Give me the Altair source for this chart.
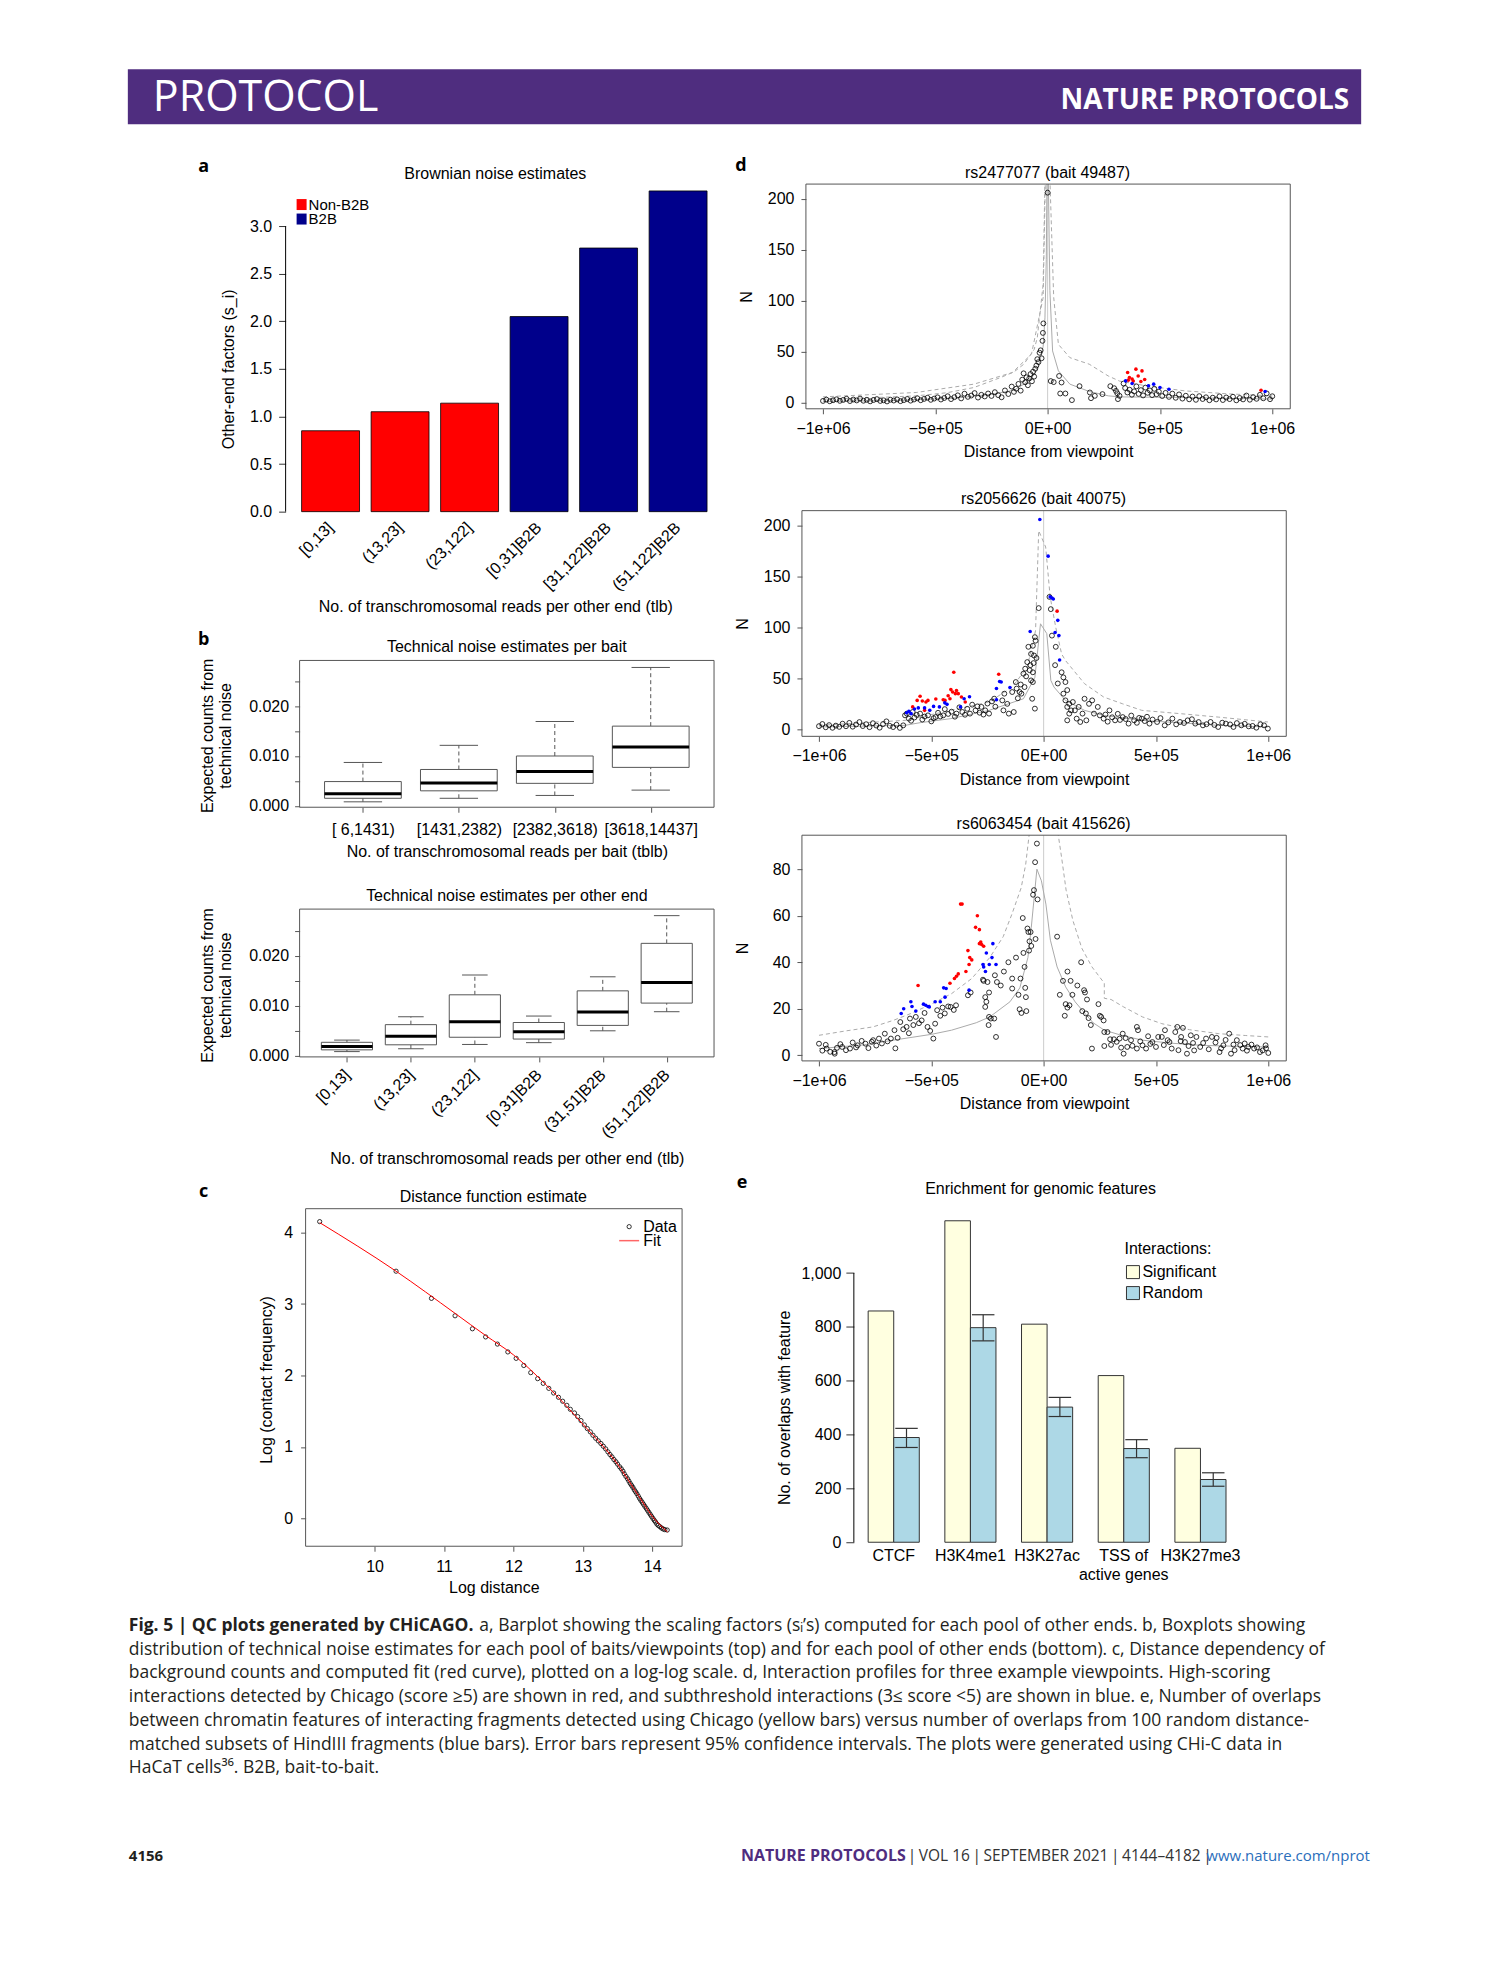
import json
import altair as alt
import pandas as pd

PLOT_FONT = "Liberation Sans, Arial, Helvetica, sans-serif"
PAGE_FONT = "Open Sans, Liberation Sans, sans-serif"
PURPLE = "#4f2d7f"
LINE = "#555555"

# ---------------- panel a ----------------
a_cats = ["[0,13]", "(13,23]", "(23,122]", "[0,31]B2B", "[31,122]B2B", "(51,122]B2B"]
a_vals = [0.85, 1.05, 1.14, 2.05, 2.77, 3.37]
a_groups = ["Non-B2B", "Non-B2B", "Non-B2B", "B2B", "B2B", "B2B"]
a_ticks = [0.0, 0.5, 1.0, 1.5, 2.0, 2.5, 3.0]

# ---------------- panel b ----------------
b1_cats = ["[ 6,1431)", "[1431,2382)", "[2382,3618)", "[3618,14437]"]
b1_lo = [0.00079, 0.0015, 0.00207, 0.00314]
b1_q1 = [0.0015, 0.0030, 0.0045, 0.00771]
b1_med = [0.00243, 0.00457, 0.00686, 0.01179]
b1_q3 = [0.00486, 0.00729, 0.0100, 0.0160]
b1_hi = [0.0087, 0.01214, 0.01693, 0.02779]

b2_cats = ["[0,13]", "(13,23]", "(23,122]", "[0,31]B2B", "(31,51]B2B", "(51,122]B2B"]
b2_lo = [0.0008, 0.00137, 0.00223, 0.00259, 0.00496, 0.00878]
b2_q1 = [0.00115, 0.00216, 0.00367, 0.00331, 0.00604, 0.0105]
b2_med = [0.0018, 0.00388, 0.00676, 0.00475, 0.0087, 0.0146]
b2_q3 = [0.00266, 0.00619, 0.01216, 0.00662, 0.01295, 0.02245]
b2_hi = [0.0031, 0.00777, 0.01612, 0.00791, 0.01576, 0.02799]
b_ticks = [0.0, 0.005, 0.01, 0.015, 0.02, 0.025]

# ---------------- panel c ----------------
c_x = [9.21, 10.31, 10.82, 11.16, 11.41, 11.60, 11.77, 11.92, 12.04, 12.15, 12.25, 12.35,
       12.43, 12.51, 12.58, 12.65, 12.71, 12.77, 12.82, 12.88, 12.926, 12.974, 13.022,
       13.065, 13.108, 13.146, 13.185, 13.223, 13.261, 13.295, 13.329, 13.362, 13.391,
       13.420, 13.448, 13.477, 13.501, 13.530, 13.554, 13.578, 13.597, 13.621, 13.645,
       13.664, 13.683, 13.703, 13.722, 13.741, 13.760, 13.779, 13.799, 13.818, 13.837,
       13.856, 13.875, 13.894, 13.914, 13.933, 13.952, 13.971, 13.990, 14.010, 14.029,
       14.048, 14.067, 14.086, 14.110, 14.134, 14.158, 14.182, 14.216]
c_y = [4.154, 3.46, 3.08, 2.836, 2.654, 2.54, 2.44, 2.33, 2.24, 2.14, 2.04, 1.956,
       1.89, 1.82, 1.755, 1.695, 1.64, 1.583, 1.527, 1.476, 1.425, 1.369, 1.308,
       1.257, 1.211, 1.164, 1.122, 1.085, 1.048, 1.010, 0.973, 0.931, 0.894,
       0.861, 0.824, 0.792, 0.759, 0.722, 0.694, 0.661, 0.624, 0.587, 0.554,
       0.522, 0.489, 0.461, 0.433, 0.400, 0.373, 0.345, 0.312, 0.279, 0.251,
       0.224, 0.196, 0.168, 0.140, 0.112, 0.084, 0.056, 0.028, 0.000, -0.028,
       -0.051, -0.079, -0.098, -0.116, -0.135, -0.149, -0.158, -0.163]
c_fit_x = [9.21, 10.31, 11.16, 11.60, 12.0, 12.5, 13.0, 13.5, 13.8, 14.0, 14.22]
c_fit_y = [4.14, 3.46, 2.87, 2.56, 2.29, 1.84, 1.32, 0.76, 0.32, 0.03, -0.19]

# ---------------- panel d (x in units of 1e4 bp) ----------------
d1_black = [(-100, 1.5), (-98.5, 2.8), (-97, 1.2), (-95.5, 2.2), (-94, 3.1), (-92.5, 1.6), (-91, 2.5),
            (-89.5, 3.6), (-88, 1.4), (-86.5, 2.9), (-85, 2.0), (-83.5, 3.8), (-82, 1.7), (-80.5, 2.6),
            (-79, 1.1), (-77.5, 2.4), (-76, 3.3), (-74.5, 1.5), (-73, 2.1), (-71.5, 1.0), (-70, 2.7),
            (-68.5, 1.9), (-67, 3.0), (-65.5, 1.3), (-64, 2.3), (-62.5, 3.4), (-61, 1.8), (-59.5, 2.9),
            (-58, 4.1), (-56.5, 2.2), (-55, 3.5), (-53.5, 4.6), (-52, 2.6), (-50.5, 3.8), (-49, 5.0),
            (-47.5, 2.9), (-46, 4.4), (-44.5, 6.1), (-43, 3.3), (-41.5, 5.2), (-40, 7.0), (-38.5, 4.0),
            (-37, 8.6), (-35.5, 5.5), (-34, 6.8), (-32.5, 9.2), (-31, 4.8), (-29.5, 7.5), (-28, 5.9),
            (-26.5, 8.8), (-25, 6.4), (-23.5, 10.1), (-22, 7.2), (-20.5, 5.1), (-19, 11.8), (-17.5, 8.3),
            (-16, 15.6), (-15, 10.4), (-14, 13.5), (-13, 18.2), (-12, 11.6), (-11.3, 22.4), (-10.7, 28.6),
            (-10, 19.8), (-9.4, 24.7), (-8.8, 16.9), (-8.2, 23.5), (-7.6, 27.9), (-7, 20.8), (-6.5, 30.2),
            (-6, 25.4), (-5.5, 33.1), (-5, 36.2), (-4.6, 42.5), (-4.1, 39.6), (-3.6, 48.8), (-3.1, 51.2),
            (-2.7, 43.4), (-2.3, 60.5), (-2.1, 68.3), (-1.9, 77.6), (0, 206),
            (1.4, 21), (2.7, 20), (5.1, 26), (6.2, 19.6), (5.6, 8.8), (7.9, 8.8), (10.8, 2.3), (14.2, 16),
            (18.8, 9.8), (19.3, 4.2), (21, 6.5), (24.4, 8.2), (27.9, 16), (29.6, 14), (30.4, 11.4),
            (31.3, 3.3), (32, 6.5), (33.8, 18.6), (31, 9),
            (34.5, 14.2), (35.5, 9.8), (36.5, 12.5), (37.5, 7.6), (38.5, 10.9), (39.5, 15.8), (40.5, 8.4),
            (41.5, 12.1), (42.5, 6.9), (43.5, 14.6), (44.5, 9.5), (45.5, 11.8), (46.5, 7.2), (47.5, 13.4),
            (48.5, 8.1), (49.5, 10.6), (51, 6.3), (52.5, 9.4), (54, 5.5), (55.5, 8.7), (57, 4.6),
            (58.5, 7.9), (60, 3.8), (61.5, 6.6), (63, 3.1), (64.5, 5.8), (66, 2.6), (67.5, 6.2), (69, 3.4),
            (70.5, 5.1), (72, 2.2), (73.5, 4.7), (75, 3.0), (76.5, 6.0), (78, 2.4), (79.5, 4.9), (81, 3.3),
            (82.5, 5.6), (84, 2.1), (85.5, 4.4), (87, 3.0), (88.5, 6.8), (90, 2.7), (91.5, 5.2), (93, 3.6),
            (94.5, 7.5), (96, 4.1), (97.5, 8.9), (99, 3.2), (100, 6.1)]
d1_red = [(35.6, 29.4), (36.4, 24.5), (35.9, 21.9), (38.1, 21), (39.3, 32.7), (40.3, 26), (42, 31),
          (41.5, 20.6), (43.2, 22.5), (37.6, 23), (95, 12)]
d1_blue = [(34.7, 21.2), (37.6, 18.6), (44.9, 16.3), (47.2, 18), (50, 14.7), (54, 13), (96.8, 10.8)]
d1_solid = [[(-100, 1), (-70, 1.8), (-41.4, 4.2), (-24.3, 8.2), (-15, 12), (-10.6, 18), (-6, 27),
             (-3.8, 37.6), (-2, 55), (-1.2, 83), (-0.6, 140), (-0.3, 220)],
            [(0.3, 220), (1, 110), (2.2, 50.6), (4.8, 31), (9.9, 18), (18.5, 10.8), (27, 6.5), (32, 5.5),
             (40, 5.3), (61, 4.9), (80, 4), (100, 3.3)]]
d1_dashed = [[(-100, 3.3), (-80, 4.5), (-58.5, 6.5), (-45, 9.5), (-32.8, 14.7), (-20.9, 24.5), (-15, 30),
              (-10.6, 37.6), (-6, 52), (-4.6, 63.7), (-2, 116), (-1.2, 220)],
             [(-100, 5.5), (-58.5, 9.8), (-32.8, 18), (-15.7, 29.4), (-7.2, 47.4), (-2, 103), (-1, 220)],
             [(1, 220), (2.7, 103), (4.8, 57), (9.9, 44), (18.5, 37.6), (27, 26), (32, 21), (44, 16.3),
              (61, 11.4), (80, 8.5), (100, 6.5)]]

d2_black = [(-100, 3.1), (-98.5, 5.2), (-97, 2.0), (-95.5, 4.1), (-94, 1.5), (-92.5, 3.6), (-91, 2.4),
            (-89.5, 5.5), (-88, 3.0), (-86.5, 6.3), (-85, 2.6), (-83.5, 4.7), (-82, 7.1), (-80.5, 3.2),
            (-79, 5.0), (-77.5, 2.1), (-76, 6.0), (-74.5, 3.7), (-73, 1.6), (-71.5, 5.1), (-70, 7.8),
            (-68.5, 3.4), (-67, 2.2), (-65.5, 4.5), (-64, 1.4), (-62.5, 3.9),
            (-61.7, 13.7), (-60.9, 15.4), (-60, 10.5), (-59, 8.4), (-58.3, 17.0), (-57.5, 11.6),
            (-56.5, 14.2), (-55, 15.4), (-54, 9.6), (-53, 12.5), (-51.5, 13.7), (-50, 7.8), (-49, 10.9),
            (-48.1, 12.0), (-47, 16.2), (-46, 12.6), (-44.7, 13.7), (-44, 19.8), (-42.5, 15.1),
            (-41, 17.3), (-39.5, 12.4), (-38.8, 15.4), (-37.5, 21.6), (-36.2, 17.0), (-35, 14.3),
            (-34, 20.1), (-32.8, 15.4), (-31.8, 24.2), (-30.3, 18.6), (-29.5, 22.5), (-28.5, 16.3),
            (-27.7, 22.0), (-26.8, 14.5), (-26, 18.6), (-25, 25.3), (-24.3, 15.4), (-23, 27.4),
            (-22, 30.1), (-21.5, 22.2), (-18.4, 28.4), (-17.9, 18.6), (-17.5, 35.0), (-16.2, 25.0),
            (-15.5, 15.4), (-14, 36.6), (-13.3, 17.0), (-12.4, 46.4), (-12, 40.0), (-11.5, 30.5),
            (-10.7, 36.6), (-10.2, 44.0), (-9.9, 35.0), (-9, 54.6), (-8.5, 41.5), (-8.2, 59.5),
            (-7.8, 52.0), (-7.3, 66.0), (-6.8, 81.0), (-6.2, 58.0), (-5.9, 63.0), (-5.6, 74.0),
            (-5.6, 48.0), (-5.1, 30.0), (-4.8, 82.0), (-4.8, 56.0), (-4.5, 65.0), (-4.8, 46.4),
            (-4.3, 72.5), (-3.9, 90.5), (-3.9, 20.3), (-3.6, 87.0), (-3.2, 70.0), (-2.2, 119.0),
            (2.6, 130), (3.2, 118), (3.7, 92), (5.4, 81), (5.1, 63), (8, 56), (8.8, 51), (9.7, 46.4),
            (8.8, 35), (6.3, 45), (10.5, 38.5), (9.7, 28.4), (11.4, 25), (10.5, 22), (13, 26.8),
            (12.2, 18.6), (13.9, 18.6), (15.6, 22), (17.3, 15.4), (18.2, 30), (19, 8.8), (20.2, 25),
            (21.6, 28.4), (22.4, 15.4), (24.1, 22), (25, 13.7), (26.7, 10.5), (29.3, 18.6), (31.8, 8.8),
            (35.2, 12), (37.8, 5.6), (40.3, 8.8), (43.7, 10.5), (47.1, 5.6), (50.5, 7.2), (53.9, 3.9),
            (57.3, 10.5), (60.7, 7.2), (64.1, 8.8), (67.5, 5.6), (70.9, 3.9), (74.3, 7.2), (77.7, 2.3),
            (81.1, 5.6), (84.5, 2.3), (88, 3.9), (91.3, 2.9), (94.7, 1.6), (98.1, 3.9), (99.8, 0.7),
            (11.4, 15.4), (10.5, 8.8), (14.7, 10.5), (16.3, 7.2), (27.5, 14.5), (28.5, 7.5), (30.5, 11.8),
            (33, 15.2), (34, 9.2), (36.5, 10.1), (39, 13.5), (41.5, 6.4), (42.5, 11.2), (45, 8.1),
            (46, 12.3), (48.5, 9.6), (52, 11.0), (55.5, 6.8), (59, 4.9), (62.5, 6.2), (66, 9.9), (69, 7.1),
            (72.5, 5.0), (76, 4.3), (79.5, 6.5), (83, 4.8), (86, 6.1), (89.5, 5.4), (93, 3.3), (96.5, 4.9)]
d2_red = [(6, 116), (-20, 54), (-40, 56), (-41.3, 39), (-40.5, 36.6), (-38.8, 38), (-38, 35), (-42.5, 33),
          (-39.3, 35), (-41.7, 30), (-43.9, 28.4), (-44.7, 29), (-48, 29.7), (-51.5, 28.4), (-52.4, 26.8),
          (-54, 27.8), (-55, 32.4), (-56.3, 28.4), (-58.3, 22), (-53, 18.6), (-34.9, 26.8), (-36.6, 31.7)]
d2_blue = [(-1.7, 206), (2, 170), (2.9, 130), (3.7, 129), (4.3, 128), (6.3, 107), (6.8, 92), (5.1, 95),
           (7.1, 68), (-6, 96), (-21, 40), (-19.6, 47), (-18.9, 46.4), (-15, 41), (-21, 29), (-33, 32),
           (-35.4, 30), (-37, 22), (-43, 24.5), (-44, 26), (-46.4, 22), (-49, 22.5), (-50.7, 18.6),
           (-53, 21), (-55.8, 21), (-57.5, 20), (-60, 17.6), (-61, 16.3), (-59, 15.4)]
d2_solid = [[(-100, 2.3), (-61.7, 3.9), (-55, 6.5), (-41.3, 10.5), (-24.3, 18.6), (-9, 30), (-3.9, 51),
             (-1.4, 103.6), (1.4, 94), (3.2, 48), (4.6, 41.5), (9.7, 28.4), (18.2, 18.6), (26.7, 13.7),
             (43.7, 8.8), (77.7, 3.9), (99.8, 2.3)]]
d2_dashed = [[(-100, 3.9), (-61.7, 8.8), (-41.3, 18.6), (-24.3, 26.8), (-14, 41.5), (-7.3, 61), (-3.6, 97),
              (-2.2, 195), (0.9, 179), (2.9, 130), (5.4, 100), (8, 74), (9.7, 67.6), (18.2, 44.8),
              (26.7, 31.7), (35.2, 25), (43.7, 18.6), (60.7, 15.4), (77.7, 12), (99.8, 7.2)]]

d3_black = [(-100, 5.0), (-98.5, 2.0), (-97, 4.5), (-96.6, 2.9), (-95, 1.5), (-93.1, 1.4), (-93, 0.7),
            (-92, 3.2), (-90.5, 4.8), (-89.7, 3.6), (-88, 2.2), (-86.2, 2.9), (-85, 5.5), (-83.5, 3.4),
            (-82.8, 4.3), (-81, 6.2), (-79.3, 5.0), (-78, 3.1), (-76.5, 5.8), (-75.9, 6.5), (-74.5, 4.2),
            (-73.3, 7.2), (-72, 5.1), (-70.7, 9.3), (-69.5, 6.0), (-68, 7.2), (-66.4, 10.8), (-66, 3.0),
            (-65, 7.5), (-63.8, 14.3), (-62.5, 11.2), (-61, 12.2), (-60, 9.5), (-59.5, 15.8), (-58, 13.0),
            (-56.9, 16.5), (-55.5, 13.8), (-54.3, 15.0), (-53, 18.2), (-51.7, 12.2), (-50.5, 10.5),
            (-49.1, 7.2), (-48.3, 13.6), (-47.4, 19.4), (-46, 17.0), (-45, 20.5), (-44, 18.0),
            (-42.5, 21.0), (-41.4, 20.8), (-40, 19.5), (-39, 21.5), (-33.7, 25.8), (-32.5, 27.0),
            (-27, 32.5), (-26.7, 32), (-26, 25), (-26, 20.8), (-25.5, 23), (-25, 31.5), (-24.5, 13),
            (-24.3, 27), (-24.3, 16.5), (-23.5, 15.8), (-22, 15.8), (-21.7, 34.4), (-21.2, 7.9),
            (-20.8, 31.5), (-19.1, 30), (-17.7, 36), (-15.7, 40), (-14, 33), (-14, 28.7), (-12.3, 42),
            (-11.2, 26), (-10.7, 19.8), (-10.3, 33), (-9.9, 18.2), (-9.3, 59), (-9, 44), (-8.5, 38),
            (-8.2, 29), (-7.9, 25), (-7.7, 19), (-7.2, 54.5), (-6.8, 53), (-6.5, 45), (-6.3, 49),
            (-5.8, 53), (-5.5, 47), (-4.7, 69), (-4.3, 71), (-3.8, 83), (-3.6, 50), (-3, 91), (-2.7, 67),
            (6, 51), (7.2, 26), (8.6, 32), (9.4, 17), (9.8, 22), (10.6, 36), (10.6, 20.5), (11.5, 21.5),
            (12, 32), (12.8, 26), (15, 30), (16.7, 40), (17.2, 19), (18, 28), (18.4, 27), (18.8, 18),
            (19.3, 24), (20, 16), (21, 13), (21.5, 2.9), (24.4, 22), (25, 17), (25.6, 16.5), (26.7, 15),
            (27, 10), (27, 4), (28.4, 10), (29.6, 6.9), (31.3, 6.9), (33.8, 7.2), (35.2, 9.3),
            (35.6, 0.7), (37.2, 3.6), (38.9, 6.5), (41.5, 12.2), (42, 10.8), (41.5, 2.9), (44, 4.3),
            (45.6, 2.9), (48.4, 5.7), (51, 7.9), (52.6, 7.9), (55.2, 6.5), (57, 2.9), (58.6, 10),
            (59.5, 12.2), (61.2, 7.9), (62.9, 5.7), (63.8, 0.7), (65.5, 8.6), (68, 7.9), (69.7, 3.6),
            (72.3, 7.2), (74.9, 7.9), (78.3, 1.4), (80, 4.3), (82.6, 9.3), (83.4, 0.7), (86, 6.5),
            (88.6, 2.9), (91.1, 3.6), (93.7, 2.9), (96.3, 1.4), (98.8, 4.3), (100, 1.0),
            (30, 4.5), (32.5, 5.8), (34.5, 3.3), (36.5, 7.4), (39.5, 4.1), (43, 6.0), (46.5, 8.2),
            (47.5, 4.9), (50, 3.6), (53.5, 4.4), (54, 10.8), (56, 5.7), (60, 2.2), (61, 6.1), (62, 11.8),
            (64.5, 4.0), (66.5, 5.3), (67, 2.1), (71, 5.3), (73.5, 2.6), (76.5, 5.5), (77, 7.5), (79, 3.0),
            (81, 6.6), (84.5, 4.6), (85, 2.2), (87.5, 4.4), (89.5, 5.1), (90.5, 2.0), (92.5, 4.6),
            (95, 3.4), (97.5, 2.1), (99, 3.0)]
d3_red = [(-37, 65), (-36.3, 65), (-29.5, 60), (-30.3, 55), (-28.6, 54), (-28, 48.7), (-27.6, 47.6),
          (-26.7, 46.9), (-28.6, 48), (-33.7, 45), (-32.9, 42), (-32, 41), (-33.2, 39), (-34.6, 36),
          (-38, 35), (-38.8, 34), (-39.7, 33), (-41.7, 31), (-55.9, 30)]
d3_blue = [(-22.6, 48), (-25.5, 44), (-23, 42), (-21.2, 39), (-24.2, 39), (-27, 39), (-26.7, 38),
           (-25.9, 36), (-33.2, 28), (-43.4, 28.7), (-44.5, 29), (-46, 23), (-48.3, 23), (-50.9, 20.8),
           (-53.5, 22), (-59.1, 23), (-58.6, 21), (-62.3, 20), (-63.4, 18), (-56.9, 19), (-43.9, 25),
           (-52.5, 21.5), (-51.5, 21)]
d3_solid = [[(-100, 2.9), (-80, 4.5), (-67, 6.5), (-50, 9.0), (-41, 10.8), (-30, 14), (-24, 16.5),
             (-15, 23), (-10.6, 29), (-7, 42), (-5.5, 55), (-4, 70), (-3, 80), (-1, 75), (1, 65),
             (3, 49.5), (6, 38), (9.8, 29.4), (14, 23), (18.4, 18), (22, 14), (27, 10.8), (35, 8.5),
             (44, 6.5), (57, 5.2), (70, 4.3), (85, 3.9), (100, 3.6)]]
d3_dashed = [[(-100, 8.6), (-88, 10.5), (-76, 12.2), (-67, 15), (-59, 18), (-50, 22), (-41, 26.5),
              (-32, 33), (-24, 42), (-18, 51), (-14, 61), (-10, 72), (-8, 82), (-6.3, 96)],
             [(6.3, 96), (8, 85), (10, 71), (13, 58), (17, 46), (21.5, 38), (27, 31), (27, 24.5),
              (30, 24), (35.6, 20.8), (44, 16.5), (52.6, 13.6), (65, 11), (78, 9.3), (90, 8.5),
              (100, 7.9)]]

# ---------------- panel e ----------------
e_line1 = ["CTCF", "H3K4me1", "H3K27ac", "TSS of", "H3K27me3"]
e_line2 = ["", "", "", "active genes", ""]
e_sig = [859, 1194, 810, 619, 349]
e_rand = [389, 797, 502, 348, 233]
e_lo = [352, 748, 467, 314, 208]
e_hi = [423, 845, 538, 381, 258]
e_ticks = [0, 200, 400, 600, 800, 1000]

# ---------------- text ----------------
cap_bold = "Fig. 5 | QC plots generated by CHiCAGO."
cap_lines = [
    "a, Barplot showing the scaling factors (s\u1d62\u2019s) computed for each pool of other ends. b, Boxplots showing",
    "distribution of technical noise estimates for each pool of baits/viewpoints (top) and for each pool of other ends (bottom). c, Distance dependency of",
    "background counts and computed fit (red curve), plotted on a log-log scale. d, Interaction profiles for three example viewpoints. High-scoring",
    "interactions detected by Chicago (score \u22655) are shown in red, and subthreshold interactions (3\u2264 score <5) are shown in blue. e, Number of overlaps",
    "between chromatin features of interacting fragments detected using Chicago (yellow bars) versus number of overlaps from 100 random distance-",
    "matched subsets of HindIII fragments (blue bars). Error bars represent 95% confidence intervals. The plots were generated using CHi-C data in",
    "HaCaT cells\u00b3\u2076. B2B, bait-to-bait.",
]
cap_y = [21.7, 45.7, 69.0, 92.7, 116.7, 140.7, 164.3]
foot_mid = "\u2009|\u2009VOL 16\u2009|\u2009SEPTEMBER 2021\u2009|\u20094144\u20134182\u2009|"


# ---------------- helpers ----------------
def frame(W, H, L, T, R, B):
    return alt.Chart(pd.DataFrame({"f": [0]})).mark_rect(opacity=0).encode(
        x=alt.value(-L), x2=alt.value(W + R), y=alt.value(-T), y2=alt.value(H + B))


def spacer():
    return alt.Chart(pd.DataFrame({"f": [0]})).mark_rect(opacity=0).encode(
        x=alt.value(0), x2=alt.value(1), y=alt.value(0), y2=alt.value(1)).properties(width=1, height=1)


def wrap(ch):
    return alt.hconcat(spacer(), ch, spacing=0)


def label(s, x, y, size=16, weight="normal", align="center", baseline="middle",
          color="black", font=PLOT_FONT):
    return alt.Chart(pd.DataFrame({"t": [s]})).mark_text(
        fontSize=size, fontWeight=weight, align=align, baseline=baseline, color=color, font=font
    ).encode(text="t:N", x=alt.value(x), y=alt.value(y))


def outline(W, H, color=LINE):
    return alt.Chart(pd.DataFrame({"f": [0]})).mark_rect(
        fillOpacity=0, stroke=color, strokeWidth=1).encode(
        x=alt.value(0), x2=alt.value(W), y=alt.value(0), y2=alt.value(H))


def swatch(x0, x1, y0, y1, color, stroke=None):
    kw = dict(color=color)
    if stroke:
        kw = dict(fill=color, stroke=stroke, strokeWidth=1)
    return alt.Chart(pd.DataFrame({"f": [0]})).mark_rect(**kw).encode(
        x=alt.value(x0), x2=alt.value(x1), y=alt.value(y0), y2=alt.value(y1))


def seg_df(segs):
    rows = []
    for i, seg in enumerate(segs):
        for j, (x, y) in enumerate(seg):
            rows.append({"x": x, "y": y, "seg": i, "idx": j})
    return pd.DataFrame(rows)


# ---------------- header ----------------
def header():
    W, H = 1235, 55
    bar = swatch(0, W, 0, H, PURPLE)
    t1 = label("PROTOCOL", 25, 42, size=43, align="left", baseline="alphabetic", color="white", font=PAGE_FONT)
    t2 = label("NATURE PROTOCOLS", 1223, 40, size=28, weight="bold", align="right", baseline="alphabetic",
               color="white", font=PAGE_FONT)
    return alt.layer(frame(W, H, 119, 60, 116, 17), bar, t1, t2).properties(width=W, height=H)


# ---------------- panel a ----------------
def panel_a():
    W, H, L, T, R, B = 438, 324, 277, 46, 11, 117
    df = pd.DataFrame({"cat": a_cats, "val": a_vals, "grp": a_groups})
    xs = alt.Scale(domain=a_cats, paddingInner=0.1667, paddingOuter=0.23)
    ys = alt.Scale(domain=[0, 3.4], nice=False, zero=False)
    yaxis = alt.Axis(values=a_ticks, format=".1f", domain=False, tickSize=7, labelPadding=7,
                     labelFlush=False, titleX=-57, titleY=181, titleBaseline="middle")
    ytitle = "Other-end factors (s_i)"
    bars = alt.Chart(df).mark_bar(stroke="black", strokeWidth=0.8).encode(
        x=alt.X("cat:N", scale=xs, sort=a_cats, title="No. of transchromosomal reads per other end (tlb)",
                axis=alt.Axis(labelAngle=315, labelAlign="right", labelBaseline="middle", ticks=False,
                              tickSize=0, domain=False, labelPadding=13, labelOverlap=False,
                              titleX=210, titleY=95, titleBaseline="middle")),
        y=alt.Y("val:Q", scale=ys, title=ytitle, axis=yaxis),
        color=alt.Color("grp:N", scale=alt.Scale(domain=["Non-B2B", "B2B"], range=["#ff0000", "#00008b"]),
                        legend=None))
    dom = alt.Chart(pd.DataFrame({"val": [0.0], "val2": [3.0]})).mark_rule(color="black").encode(
        x=alt.value(0), y=alt.Y("val:Q", scale=ys, title=ytitle, axis=yaxis), y2="val2:Q")
    layers = [frame(W, H, L, T, R, B), bars, dom,
              label("a", -82, -21, size=18, weight="bold", font=PAGE_FONT),
              label("Brownian noise estimates", 210, -14),
              swatch(11, 21, 11, 22, "#ff0000"), swatch(11, 21, 25.5, 36.5, "#00008b"),
              label("Non-B2B", 23, 16.5, size=15, align="left"),
              label("B2B", 23, 31, size=15, align="left")]
    return alt.layer(*layers).properties(width=W, height=H)


# ---------------- panel b ----------------
def box_panel(cats, lo, q1, med, q3, hi, W, H, L, T, R, B, ydom, xdom, rotate, title, xtitle,
              xlab_pad, xtitle_y, ytitle_y, letter=None):
    n = len(cats)
    df = pd.DataFrame({"pos": list(range(1, n + 1)), "lo": lo, "q1": q1, "med": med, "q3": q3, "hi": hi})
    base = alt.Chart(df).transform_calculate(
        bl="datum.pos - 0.4", br="datum.pos + 0.4", cl="datum.pos - 0.2", cr="datum.pos + 0.2")
    xs = alt.Scale(domain=xdom, nice=False, zero=False)
    ys = alt.Scale(domain=ydom, nice=False, zero=False)
    labexpr = json.dumps(cats) + "[round(datum.value) - 1]"
    common = dict(values=list(range(1, n + 1)), labelExpr=labexpr, tickSize=5, labelPadding=xlab_pad,
                  labelBaseline="middle", domain=False, labelOverlap=False, labelFlush=False,
                  titleX=W / 2, titleY=xtitle_y, titleBaseline="middle", tickColor=LINE)
    if rotate:
        xaxis = alt.Axis(labelAngle=315, labelAlign="right", **common)
    else:
        xaxis = alt.Axis(**common)
    yaxis = alt.Axis(values=b_ticks,
                     labelExpr="round(datum.value * 1000) % 10 == 0 ? format(datum.value, '.3f') : ''",
                     tickSize=5, labelPadding=6, domain=False, labelFlush=False, titleX=-92, titleY=ytitle_y,
                     titleBaseline="middle", titleLineHeight=18, tickColor=LINE)
    ytitle = ["Expected counts from", "technical noise"]

    def X(f):
        return alt.X(f, scale=xs, axis=xaxis, title=xtitle)

    def Y(f):
        return alt.Y(f, scale=ys, axis=yaxis, title=ytitle)

    wh = base.mark_rule(strokeDash=[4, 3], color=LINE).encode(x=X("pos:Q"), y=Y("q3:Q"), y2="hi:Q")
    wl = base.mark_rule(strokeDash=[4, 3], color=LINE).encode(x=X("pos:Q"), y=Y("lo:Q"), y2="q1:Q")
    ch = base.mark_rule(color=LINE).encode(x=X("cl:Q"), x2="cr:Q", y=Y("hi:Q"))
    cl = base.mark_rule(color=LINE).encode(x=X("cl:Q"), x2="cr:Q", y=Y("lo:Q"))
    bx = base.mark_rect(fill="white", stroke=LINE, strokeWidth=1).encode(
        x=X("bl:Q"), x2="br:Q", y=Y("q1:Q"), y2="q3:Q")
    md = base.mark_rule(color="black", strokeWidth=3).encode(x=X("bl:Q"), x2="br:Q", y=Y("med:Q"))
    layers = [frame(W, H, L, T, R, B), wh, wl, ch, cl, bx, md, outline(W, H),
              label(title, W / 2, -13)]
    if letter:
        layers.append(label(letter, -96, -20, size=18, weight="bold", font=PAGE_FONT))
    return alt.layer(*layers).properties(width=W, height=H)


# ---------------- panel c ----------------
def panel_c():
    W, H, L, T, R, B = 377, 338, 297, 29, 52, 58
    xs = alt.Scale(domain=[9.007, 14.43], nice=False, zero=False)
    ys = alt.Scale(domain=[-0.39, 4.335], nice=False, zero=False)
    xaxis = alt.Axis(values=[10, 11, 12, 13, 14], tickSize=5, labelPadding=15, labelBaseline="middle",
                     domain=False, labelFlush=False, titleX=W / 2, titleY=41, titleBaseline="middle",
                     tickColor=LINE)
    yaxis = alt.Axis(values=[0, 1, 2, 3, 4], tickSize=5, labelPadding=8, domain=False, labelFlush=False,
                     titleX=-39, titleY=171, titleBaseline="middle", tickColor=LINE)
    X = alt.X("x:Q", scale=xs, axis=xaxis, title="Log distance")
    Y = alt.Y("y:Q", scale=ys, axis=yaxis, title="Log (contact frequency)")
    pts = alt.Chart(pd.DataFrame({"x": c_x, "y": c_y})).mark_point(
        shape="circle", filled=False, size=18, color="black", strokeWidth=0.8, opacity=1).encode(x=X, y=Y)
    fit = alt.Chart(pd.DataFrame({"x": c_fit_x, "y": c_fit_y})).mark_line(
        color="#ff0000", strokeWidth=1, interpolate="monotone").encode(x=X, y=Y)
    leg_pt = alt.Chart(pd.DataFrame({"f": [0]})).mark_point(
        shape="circle", filled=False, size=18, color="black", strokeWidth=0.8, opacity=1).encode(
        x=alt.value(324), y=alt.value(18))
    leg_ln = alt.Chart(pd.DataFrame({"f": [0]})).mark_rule(color="#ff6666", strokeWidth=1.5).encode(
        x=alt.value(314), x2=alt.value(334), y=alt.value(32))
    layers = [frame(W, H, L, T, R, B), pts, fit, outline(W, H), leg_pt, leg_ln,
              label("Data", 338, 18, align="left"), label("Fit", 338, 32, align="left"),
              label("Distance function estimate", 188, -12),
              label("c", -102, -17, size=18, weight="bold", font=PAGE_FONT)]
    return alt.layer(*layers).properties(width=W, height=H)


# ---------------- panel d ----------------
def d_panel(title, black, red, blue, solid, dashed, ydom, yticks, H, T, B, letter=None):
    W, L, R = 485, 67, 191
    xs = alt.Scale(domain=[-107.6, 108.0], nice=False, zero=False)
    ys = alt.Scale(domain=ydom, nice=False, zero=False)
    xlab = ("datum.value == -100 ? '\u22121e+06' : datum.value == -50 ? '\u22125e+05' : "
            "datum.value == 0 ? '0E+00' : datum.value == 50 ? '5e+05' : '1e+06'")
    xaxis = alt.Axis(values=[-100, -50, 0, 50, 100], labelExpr=xlab, tickSize=5, labelPadding=14.5,
                     labelBaseline="middle", domain=False, labelFlush=False, labelOverlap=False,
                     titleX=W / 2, titleY=43, titleBaseline="middle", tickColor=LINE)
    yaxis = alt.Axis(values=yticks, tickSize=5, labelPadding=7, domain=False, labelFlush=False,
                     titleX=-59, titleY=H / 2, titleBaseline="middle", tickColor=LINE)
    X = alt.X("x:Q", scale=xs, axis=xaxis, title="Distance from viewpoint")
    Y = alt.Y("y:Q", scale=ys, axis=yaxis, title="N")
    zero = alt.Chart(pd.DataFrame({"x": [0]})).mark_rule(color="#cccccc", strokeWidth=1).encode(
        x=X, y=alt.value(0), y2=alt.value(H))
    sol = alt.Chart(seg_df(solid)).mark_line(color="#aaaaaa", strokeWidth=1, clip=True).encode(
        x=X, y=Y, detail="seg:N", order="idx:Q")
    dsh = alt.Chart(seg_df(dashed)).mark_line(color="#aaaaaa", strokeWidth=1, strokeDash=[4, 3],
                                              clip=True).encode(x=X, y=Y, detail="seg:N", order="idx:Q")
    pts = alt.Chart(pd.DataFrame(black, columns=["x", "y"])).mark_point(
        shape="circle", filled=False, size=24, color="black", strokeWidth=0.8, opacity=1).encode(x=X, y=Y)
    rp = alt.Chart(pd.DataFrame(red, columns=["x", "y"])).mark_circle(
        size=13, color="#ff0000", opacity=1).encode(x=X, y=Y)
    up = alt.Chart(pd.DataFrame(blue, columns=["x", "y"])).mark_circle(
        size=13, color="#0000ff", opacity=1).encode(x=X, y=Y)
    layers = [frame(W, H, L, T, R, B), zero, sol, dsh, pts, rp, up, outline(W, H),
              label(title, 242, -11.5)]
    if letter:
        layers.append(label(letter, -65, -18, size=18, weight="bold", font=PAGE_FONT))
    return alt.layer(*layers).properties(width=W, height=H)


# ---------------- panel e ----------------
def panel_e():
    W, H, L, T, R, B = 387, 337, 119, 46, 237, 62
    xs = alt.Scale(domain=[0.44, 15.56], nice=False, zero=False)
    ys = alt.Scale(domain=[0, 1250], nice=False, zero=False)
    n = len(e_sig)
    df = pd.DataFrame({"g": list(range(n)), "sig": e_sig, "rand": e_rand, "lo": e_lo, "hi": e_hi,
                       "l1": e_line1, "l2": e_line2})
    base = alt.Chart(df).transform_calculate(
        s0="1 + 3 * datum.g", s1="2 + 3 * datum.g", r1="3 + 3 * datum.g", rc="2.5 + 3 * datum.g",
        c0="2.06 + 3 * datum.g", c1="2.94 + 3 * datum.g", z="0")
    yaxis = alt.Axis(values=e_ticks, labelExpr="format(datum.value, ',d')", tickSize=8, labelPadding=5,
                     domain=False, labelFlush=False, titleX=-69, titleY=202, titleBaseline="middle")
    ytitle = "No. of overlaps with feature"

    def X(f):
        return alt.X(f, scale=xs, axis=None)

    def Y(f):
        return alt.Y(f, scale=ys, axis=yaxis, title=ytitle)

    sig = base.mark_rect(fill="#ffffe0", stroke="#333333", strokeWidth=1).encode(
        x=X("s0:Q"), x2="s1:Q", y=Y("sig:Q"), y2="z:Q")
    rnd = base.mark_rect(fill="#add8e6", stroke="#333333", strokeWidth=1).encode(
        x=X("s1:Q"), x2="r1:Q", y=Y("rand:Q"), y2="z:Q")
    err = base.mark_rule(color="#333333", strokeWidth=1.2).encode(x=X("rc:Q"), y=Y("lo:Q"), y2="hi:Q")
    ehi = base.mark_rule(color="#333333", strokeWidth=1.2).encode(x=X("c0:Q"), x2="c1:Q", y=Y("hi:Q"))
    elo = base.mark_rule(color="#333333", strokeWidth=1.2).encode(x=X("c0:Q"), x2="c1:Q", y=Y("lo:Q"))
    dom = alt.Chart(pd.DataFrame({"sig": [0], "sig2": [1000]})).mark_rule(color="black").encode(
        x=alt.value(0), y=Y("sig:Q"), y2="sig2:Q")
    lab1 = base.mark_text(fontSize=16, font=PLOT_FONT, color="black", baseline="middle").encode(
        x=X("s1:Q"), y=alt.value(H + 14), text="l1:N")
    lab2 = base.mark_text(fontSize=16, font=PLOT_FONT, color="black", baseline="middle").encode(
        x=X("s1:Q"), y=alt.value(H + 33), text="l2:N")
    layers = [frame(W, H, L, T, R, B), sig, rnd, err, ehi, elo, dom, lab1, lab2,
              label("Enrichment for genomic features", 187, -17),
              label("e", -112, -23, size=18, weight="bold", font=PAGE_FONT),
              label("Interactions:", 271, 43, align="left"),
              swatch(273, 286, 60, 73, "#ffffe0", stroke="#333333"),
              swatch(273, 286, 81, 94, "#add8e6", stroke="#333333"),
              label("Significant", 289, 66, align="left"),
              label("Random", 289, 87, align="left")]
    return alt.layer(*layers).properties(width=W, height=H)


# ---------------- caption ----------------
def caption():
    W, H = 1470, 360
    layers = [frame(W, H, 0, 0, 0, 0),
              label(cap_bold, 120, cap_y[0], size=17.5, weight="bold", align="left", color="#231f20",
                    font=PAGE_FONT)]
    for i, (s, y) in enumerate(zip(cap_lines, cap_y)):
        x = 471 if i == 0 else 120
        layers.append(label(s, x, y, size=17.5, align="left", color="#231f20", font=PAGE_FONT))
    layers += [label("4156", 120, 252, size=15, weight="bold", align="left", color="#231f20", font=PAGE_FONT),
               label("NATURE PROTOCOLS", 733, 252, size=16, weight="bold", align="left", color=PURPLE,
                     font=PAGE_FONT),
               label(foot_mid, 900, 252, size=15.5, align="left", color="#333333", font=PAGE_FONT),
               label("www.nature.com/nprot", 1199, 252, size=15, align="left", color="#2a6ebb",
                     font=PAGE_FONT)]
    return alt.layer(*layers).properties(width=W, height=H)


b1 = box_panel(b1_cats, b1_lo, b1_q1, b1_med, b1_q3, b1_hi, 415, 147, 291, 32, 20, 73,
               [-0.0003, 0.0292], [0.34, 4.66], False, "Technical noise estimates per bait",
               "No. of transchromosomal reads per bait (tblb)", 17, 44, 75, letter="b")
b2 = box_panel(b2_cats, b2_lo, b2_q1, b2_med, b2_q3, b2_hi, 415, 148, 291, 29, 20, 123,
               [-0.00026, 0.0293], [0.26, 6.74], True, "Technical noise estimates per other end",
               "No. of transchromosomal reads per other end (tlb)", 10, 102, 76)

d1 = d_panel("rs2477077 (bait 49487)", d1_black, d1_red, d1_blue, d1_solid, d1_dashed,
             [-6.2, 214.4], [0, 50, 100, 150, 200], 225, 42, 72, letter="d")
d2 = d_panel("rs2056626 (bait 40075)", d2_black, d2_red, d2_blue, d2_solid, d2_dashed,
             [-6.9, 214.7], [0, 50, 100, 150, 200], 226, 30, 69)
d3 = d_panel("rs6063454 (bait 415626)", d3_black, d3_red, d3_blue, d3_solid, d3_dashed,
             [-2.4, 94.6], [0, 20, 40, 60, 80], 226, 30, 99)

left = alt.vconcat(spacer(), wrap(panel_a()), wrap(b1), wrap(b2), wrap(panel_c()), spacing=0)
right = alt.vconcat(spacer(), wrap(d1), wrap(d2), wrap(d3), wrap(panel_e()), spacing=0)
body = alt.hconcat(left, right, spacing=0)
chart = alt.vconcat(wrap(header()), body, wrap(caption()), spacing=0).properties(padding=0, background="white")
chart = chart.configure(font=PLOT_FONT).configure_view(stroke=None).configure_axis(
    grid=False, labelFont=PLOT_FONT, titleFont=PLOT_FONT, labelFontSize=16, titleFontSize=16,
    titleFontWeight="normal", labelColor="black", titleColor="black", tickColor="#333333",
    domainColor="#333333", titlePadding=0)

chart.save("out.html", embed_options={"renderer": "svg", "actions": False})
